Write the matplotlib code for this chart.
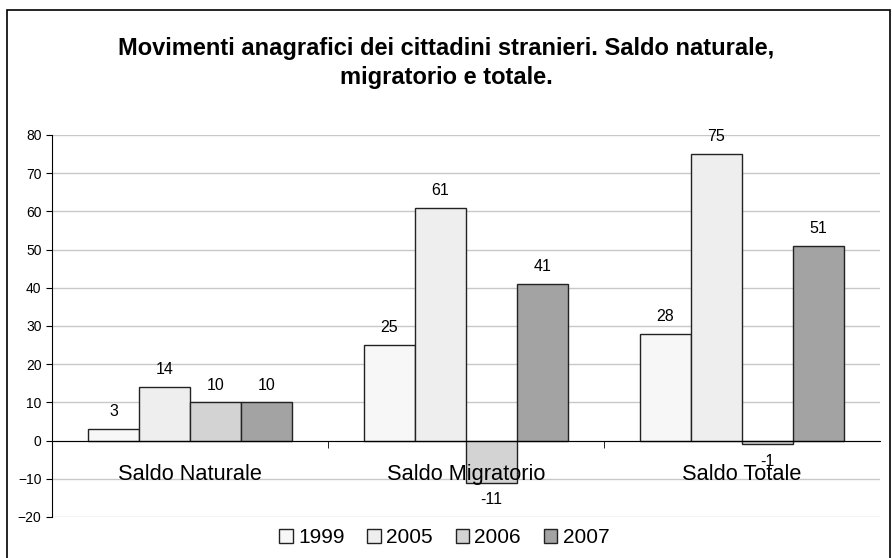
import numpy as np
import matplotlib.pyplot as plt
from matplotlib.patches import Rectangle

plt.rcParams['font.family'] = ['Liberation Sans', 'DejaVu Sans']

categorie = ['Saldo Naturale', 'Saldo Migratorio', 'Saldo Totale']
anni = ['1999', '2005', '2006', '2007']
valori = {
    '1999': [3, 25, 28],
    '2005': [14, 61, 75],
    '2006': [10, -11, -1],
    '2007': [10, 41, 51],
}
colori = ['#f7f7f7', '#eeeeee', '#d3d3d3', '#a3a3a3']

fig = plt.figure(figsize=[8.92, 5.58], dpi=100)
fig.patches.append(Rectangle((0.008, -0.01), 0.99, 0.992, transform=fig.transFigure,
                             fill=False, edgecolor='black', linewidth=1.2))
ax = fig.add_axes([0.0583, 0.0735, 0.928, 0.6846])

x = np.arange(len(categorie))
larg = 0.185
for i, anno in enumerate(anni):
    pos = x + (i - 1.5) * larg
    barre = ax.bar(pos, valori[anno], larg, color=colori[i], edgecolor='#222222',
                   linewidth=1, label=anno, zorder=3)
    ax.bar_label(barre, padding=7, fontsize=11.5)

ax.set_xlim(-0.5, 2.5)
ax.set_ylim(-20, 80)
ax.set_yticks(range(-20, 81, 10))
ax.tick_params(axis='y', labelsize=10, length=4, direction='out')
ax.yaxis.grid(True, color='#c8c8c8', linewidth=1, zorder=0)

ax.spines['top'].set_visible(False)
ax.spines['right'].set_visible(False)
ax.spines['bottom'].set_position(('data', 0))
ax.spines['bottom'].set_zorder(4)
ax.spines['left'].set_color('black')

ax.set_xticks(x)
ax.set_xticklabels(categorie, fontsize=15.7)
ax.set_xticks([0.5, 1.5], minor=True)
ax.tick_params(axis='x', which='major', length=0, pad=17)
ax.tick_params(axis='x', which='minor', length=5, direction='out')
ax.xaxis.set_zorder(5)

fig.text(0.5, 0.887, 'Movimenti anagrafici dei cittadini stranieri. Saldo naturale,\nmigratorio e totale.',
         ha='center', va='center', fontsize=17, fontweight='bold', linespacing=1.3)

fig.legend(loc='center', bbox_to_anchor=(0.498, 0.036), ncol=4, frameon=False,
           fontsize=15, handlelength=0.65, handleheight=0.65, handletextpad=0.25,
           columnspacing=1.1)

plt.savefig('out.png', dpi=100)
